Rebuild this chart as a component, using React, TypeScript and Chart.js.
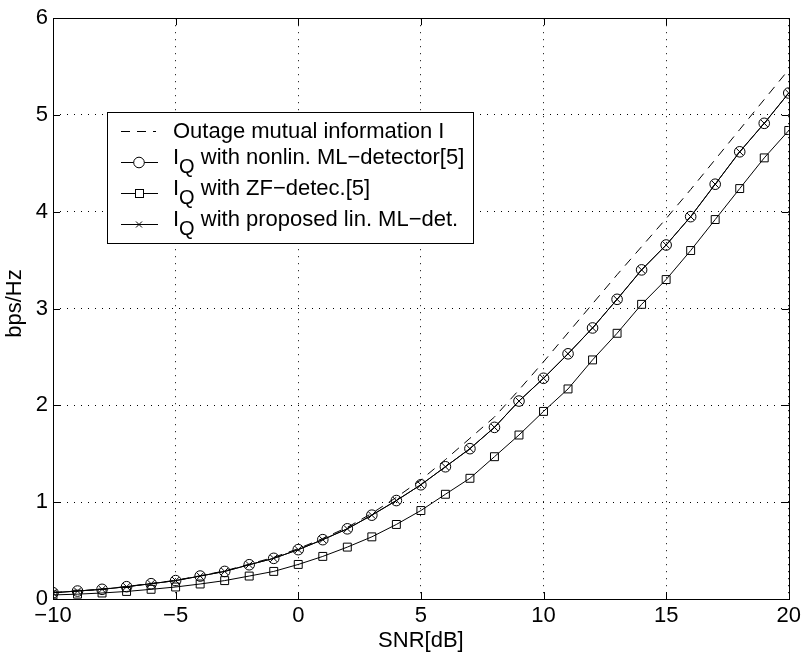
import React, { useEffect, useRef } from "react";
import { Chart, registerables } from "chart.js";
Chart.register(...registerables);

const snrDb = [-10, -9, -8, -7, -6, -5, -4, -3, -2, -1, 0, 1, 2, 3, 4, 5, 6, 7, 8, 9, 10, 11, 12, 13, 14, 15, 16, 17, 18, 19, 20];
const outageMI = [0.066, 0.083, 0.102, 0.129, 0.16, 0.193, 0.24, 0.29, 0.36, 0.43, 0.52, 0.625, 0.74, 0.885, 1.05, 1.23, 1.44, 1.66, 1.88, 2.16, 2.45, 2.75, 3.05, 3.35, 3.64, 3.93, 4.23, 4.54, 4.85, 5.16, 5.47];
const nonlinML = [0.065, 0.082, 0.1, 0.127, 0.158, 0.19, 0.237, 0.285, 0.354, 0.42, 0.51, 0.613, 0.725, 0.866, 1.017, 1.18, 1.366, 1.553, 1.773, 2.045, 2.28, 2.533, 2.8, 3.096, 3.4, 3.657, 3.95, 4.285, 4.62, 4.914, 5.227];
const zfDetec = [0.042, 0.05, 0.062, 0.078, 0.1, 0.124, 0.155, 0.19, 0.237, 0.285, 0.357, 0.44, 0.536, 0.642, 0.77, 0.914, 1.082, 1.247, 1.47, 1.694, 1.938, 2.17, 2.47, 2.745, 3.044, 3.3, 3.6, 3.92, 4.24, 4.557, 4.84];
const proposedLinML = [0.065, 0.082, 0.1, 0.127, 0.158, 0.19, 0.237, 0.285, 0.354, 0.42, 0.51, 0.613, 0.725, 0.866, 1.017, 1.18, 1.366, 1.553, 1.773, 2.045, 2.28, 2.533, 2.8, 3.096, 3.4, 3.657, 3.95, 4.285, 4.62, 4.914, 5.227];
const xTicks = [-10, -5, 0, 5, 10, 15, 20];
const yTicks = [0, 1, 2, 3, 4, 5, 6];
const legendLabels = [
  { main: "Outage mutual information I", sub: "", rest: "" },
  { main: "I", sub: "Q", rest: " with nonlin. ML\u2212detector[5]" },
  { main: "I", sub: "Q", rest: " with ZF\u2212detec.[5]" },
  { main: "I", sub: "Q", rest: " with proposed lin. ML\u2212det." },
];

const FONT = '"Liberation Sans", Arial, Helvetica, sans-serif';
const FS = 22;

const toPts = (ys: number[]) => ys.map((y, i) => ({ x: snrDb[i], y }));

const framePlugin = {
  id: "frame",
  afterDraw(chart: any) {
    const { ctx, chartArea: a, scales } = chart;
    const xs = scales.x, ys = scales.y;
    ctx.save();
    ctx.strokeStyle = "#000";
    ctx.lineWidth = 1;
    ctx.strokeRect(Math.round(a.left) + 0.5, Math.round(a.top) + 0.5, Math.round(a.right - a.left), Math.round(a.bottom - a.top));
    const tl = 7;
    ctx.beginPath();
    xTicks.forEach((v) => {
      const px = Math.round(xs.getPixelForValue(v)) + 0.5;
      ctx.moveTo(px, a.bottom); ctx.lineTo(px, a.bottom - tl);
      ctx.moveTo(px, a.top); ctx.lineTo(px, a.top + tl);
    });
    yTicks.forEach((v) => {
      const py = Math.round(ys.getPixelForValue(v)) + 0.5;
      ctx.moveTo(a.left, py); ctx.lineTo(a.left + tl, py);
      ctx.moveTo(a.right, py); ctx.lineTo(a.right - tl, py);
    });
    ctx.stroke();

    // axis titles
    ctx.fillStyle = "#000";
    ctx.font = `${FS}px ${FONT}`;
    ctx.textAlign = "center";
    ctx.textBaseline = "middle";
    ctx.fillText("SNR[dB]", (a.left + a.right) / 2, 641);
    ctx.save();
    ctx.translate(15, (a.top + a.bottom) / 2 - 5);
    ctx.rotate(-Math.PI / 2);
    ctx.fillText("bps/Hz", 0, 0);
    ctx.restore();

    // legend
    const bx = 107, by = 112;
    const rows = [131, 162, 193, 224];
    const sx0 = 121, sx1 = 158, mx = 139, tx = 173;
    ctx.textAlign = "left";
    ctx.textBaseline = "alphabetic";
    const subFs = Math.round(FS * 0.9);
    // measure widths
    let maxW = 0;
    legendLabels.forEach((l) => {
      ctx.font = `${FS}px ${FONT}`;
      let w = ctx.measureText(l.main).width + ctx.measureText(l.rest).width;
      ctx.font = `${subFs}px ${FONT}`;
      w += ctx.measureText(l.sub).width;
      maxW = Math.max(maxW, w);
    });
    const bw = Math.round(tx + maxW + 9 - bx);
    const bh = 131;
    ctx.fillStyle = "#fff";
    ctx.fillRect(bx, by, bw, bh);
    ctx.strokeStyle = "#000";
    ctx.strokeRect(bx + 0.5, by + 0.5, bw, bh);
    ctx.lineWidth = 1;
    ctx.beginPath();
    ctx.setLineDash([9, 7]);
    ctx.moveTo(sx0, rows[0] + 0.5); ctx.lineTo(sx1 - 2, rows[0] + 0.5);
    ctx.stroke();
    ctx.setLineDash([]);
    for (let i = 1; i < 4; i++) {
      ctx.beginPath();
      ctx.moveTo(sx0, rows[i] + 0.5); ctx.lineTo(sx1, rows[i] + 0.5);
      ctx.stroke();
    }
    // circle marker
    ctx.beginPath();
    ctx.arc(mx, rows[1] + 0.5, 5.3, 0, Math.PI * 2);
    ctx.fillStyle = "#fff"; ctx.fill(); ctx.stroke();
    // square marker
    ctx.fillRect(mx - 4, rows[2] - 3.5, 8, 8);
    ctx.strokeRect(mx - 3.5, rows[2] - 3.5, 8, 8);
    // x marker
    ctx.beginPath();
    ctx.moveTo(mx - 3, rows[3] - 2.5); ctx.lineTo(mx + 3, rows[3] + 3.5);
    ctx.moveTo(mx + 3, rows[3] - 2.5); ctx.lineTo(mx - 3, rows[3] + 3.5);
    ctx.stroke();

    ctx.fillStyle = "#000";
    legendLabels.forEach((l, i) => {
      const y = rows[i];
      if (!l.sub) {
        ctx.font = `${FS}px ${FONT}`;
        ctx.fillText(l.main, tx, y + 7);
        return;
      }
      ctx.font = `${FS}px ${FONT}`;
      ctx.fillText(l.main, tx, y + 2);
      const iw = ctx.measureText(l.main).width;
      ctx.font = `${subFs}px ${FONT}`;
      ctx.fillText(l.sub, tx + iw, y + 11);
      const qw = ctx.measureText(l.sub).width;
      ctx.font = `${FS}px ${FONT}`;
      ctx.fillText(l.rest, tx + iw + qw, y + 2);
    });
    ctx.restore();
  },
};

export default function App() {
  const ref = useRef<HTMLCanvasElement | null>(null);
  useEffect(() => {
    if (!ref.current) return;
    const chart = new Chart(ref.current, {
      type: "line",
      data: {
        datasets: [
          {
            label: legendLabels[0].main,
            data: toPts(outageMI),
            borderColor: "#000",
            borderWidth: 1,
            borderDash: [9, 7],
            pointRadius: 0,
            fill: false,
          },
          {
            label: "IQ" + legendLabels[1].rest,
            data: toPts(nonlinML),
            borderColor: "#000",
            borderWidth: 1,
            pointStyle: "circle",
            pointRadius: 5.3,
            pointBorderWidth: 1,
            pointBorderColor: "#000",
            pointBackgroundColor: "rgba(0,0,0,0)",
            fill: false,
          },
          {
            label: "IQ" + legendLabels[2].rest,
            data: toPts(zfDetec),
            borderColor: "#000",
            borderWidth: 1,
            pointStyle: "rect",
            pointRadius: 5.6,
            pointBorderWidth: 1,
            pointBorderColor: "#000",
            pointBackgroundColor: "rgba(0,0,0,0)",
            fill: false,
          },
          {
            label: "IQ" + legendLabels[3].rest,
            data: toPts(proposedLinML),
            borderColor: "#000",
            borderWidth: 1,
            pointStyle: "crossRot",
            pointRadius: 5,
            pointBorderWidth: 1,
            pointBorderColor: "#000",
            fill: false,
          },
        ],
      },
      options: {
        animation: false,
        responsive: false,
        layout: { padding: { top: 17, right: 14, left: 0, bottom: 0 }, autoPadding: false },
        plugins: { legend: { display: false }, tooltip: { enabled: false } },
        elements: { line: { tension: 0 } },
        scales: {
          x: {
            type: "linear",
            min: -10,
            max: 20,
            afterFit: (s: any) => { s.height = 56; },
            afterBuildTicks: (s: any) => { s.ticks = xTicks.map((v) => ({ value: v })); },
            ticks: {
              color: "#000",
              font: { family: FONT, size: FS },
              padding: 4,
              maxRotation: 0,
              callback: (v: any) => String(v).replace("-", "\u2212"),
            },
            grid: { color: "#000", lineWidth: 1, drawTicks: false },
            border: { display: false, dash: [1, 6] },
          },
          y: {
            type: "linear",
            min: 0,
            max: 6,
            afterFit: (s: any) => { s.width = 53; },
            afterBuildTicks: (s: any) => { s.ticks = yTicks.map((v) => ({ value: v })); },
            ticks: {
              color: "#000",
              font: { family: FONT, size: FS },
              padding: 5,
            },
            grid: { color: "#000", lineWidth: 1, drawTicks: false },
            border: { display: false, dash: [1, 6] },
          },
        },
      },
      plugins: [framePlugin],
    });
    return () => chart.destroy();
  }, []);
  return (
    <div style={{ position: "absolute", left: 0, top: 0, width: 805, height: 655, background: "#fff" }}>
      <canvas ref={ref} width={805} height={655} style={{ width: 805, height: 655 }} />
    </div>
  );
}
